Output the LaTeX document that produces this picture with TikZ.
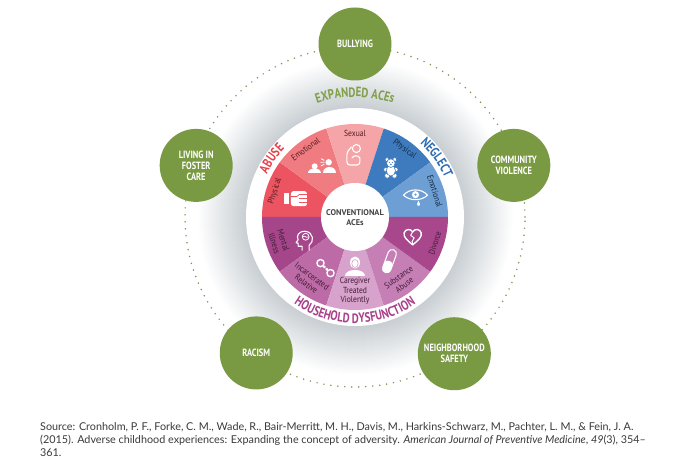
\documentclass[tikz,border=0pt]{standalone}
\usepackage{fontspec}
\setmainfont{PT Sans}
\newfontfamily\condfont[FakeStretch=0.8]{PT Sans}
\newfontfamily\segcond[FakeStretch=0.86]{PT Sans}
\newfontfamily\srcfont{Lato}
\usepackage{tikz}
\usetikzlibrary{positioning, calc, decorations.text}

\definecolor{acegreen}{RGB}{121,154,66}
\definecolor{expgreen}{RGB}{128,160,72}
\definecolor{dotgreen}{RGB}{130,148,84}
\definecolor{glowgray}{RGB}{201,207,211}
\colorlet{glowmid}{glowgray!55!white}
\definecolor{physred}{RGB}{236,84,97}
\definecolor{emored}{RGB}{240,124,130}
\definecolor{sexred}{RGB}{245,164,168}
\definecolor{abusered}{RGB}{232,65,78}
\definecolor{negblue}{RGB}{62,123,190}
\definecolor{emoblue}{RGB}{110,159,212}
\definecolor{neglblue}{RGB}{46,109,180}
\definecolor{mentalpur}{RGB}{165,70,138}
\definecolor{jailpur}{RGB}{189,107,166}
\definecolor{carepur}{RGB}{215,162,203}
\definecolor{drugpur}{RGB}{197,127,181}
\definecolor{divpur}{RGB}{169,71,141}
\definecolor{housepur}{RGB}{168,65,138}
\definecolor{srcgray}{RGB}{58,58,58}
\definecolor{hubgray}{RGB}{70,70,70}
\colorlet{redtext}{physred!35!black}
\colorlet{bluetext}{negblue!35!black}
\colorlet{purtext}{mentalpur!40!black}

\pgfdeclareradialshading{acesglow}{\pgfpoint{0bp}{0bp}}{color(0bp)=(glowgray); color(17.4bp)=(glowgray); color(20.8bp)=(glowmid); color(25bp)=(white); color(50bp)=(white)}

\newcommand\arcfont{\condfont\bfseries\fontsize{13.5}{14}\selectfont}
\newcommand\ringfont{\condfont\bfseries\fontsize{10.5}{11}\selectfont}
\newcommand\segfont{\segcond\fontsize{8.8}{9.6}\selectfont}
\newcommand\hubfont{\bfseries\fontsize{8.3}{10}\selectfont}
\newcommand\srcsize{\srcfont\fontsize{10.8}{13.3}\selectfont}

\begin{document}
\begin{tikzpicture}[
    x=1pt, y=1pt,
    ring/.style={circle, fill=acegreen, minimum size=73pt, inner sep=0pt, text=white, font=\ringfont, align=center},
    seglabel/.style={font=\segfont, align=center, inner sep=0pt},
    icon/.style={white, line width=1.1pt, line cap=round, line join=round},
    bear/.style={fill=white, draw=negblue, line width=0.6pt}
]
\path[use as bounding box, fill=white] (-355,-251) rectangle (329,217);
\coordinate (hub) at (0,0);

% 光晕与点线圆
\shade[shading=acesglow] (hub) circle (158);
\fill[white] (hub) circle (109);
\draw[dotgreen, line width=1.7pt, line cap=round, dash pattern=on 0pt off 7pt] (hub) circle (170);

% 扩展 ACEs
\node[ring] (bully) at (90:173) {BULLYING};
\node[ring] (foster) at (162:167) {LIVING IN\\FOSTER\\CARE};
\node[ring] (community) at (18:167) {COMMUNITY\\VIOLENCE};
\node[ring] (racism) at (234:168) {RACISM};
\node[ring] (safety) at (306:169) {NEIGHBORHOOD\\SAFETY};

% 扇区
\foreach \a/\c in {144/physred, 108/emored, 72/sexred, 36/negblue, 0/emoblue, 180/mentalpur, 216/jailpur, 252/carepur, 288/drugpur, 324/divpur}
  \fill[\c] (hub) -- (\a:93) arc[start angle=\a, end angle=\a+36, radius=93] -- cycle;
\fill[white] (hub) circle (34);
\node[font=\hubfont, text=hubgray, align=center] (conv) at (0,-1) {CONVENTIONAL\\ACEs};

% 扇区文字
\foreach \a/\t in {162/Physical, 126/Emotional, 90/Sexual}
  \node[seglabel, text=redtext, rotate=\a-90] (seg\a) at (\a:84) {\t};
\foreach \a/\t in {54/Physical, 18/Emotional}
  \node[seglabel, text=bluetext, rotate=\a-90] (seg\a) at (\a:84) {\t};
\foreach \a/\r/\t in {198/80/{Mental\\Illness}, 234/78/{Incarcerated\\Relative}, 270/74/{Caregiver\\Treated\\Violently}, 306/79/{Substance\\Abuse}, 342/84/Divorce}
  \node[seglabel, text=purtext, rotate=\a+90] (seg\a) at (\a:\r) {\t};

% 图标
\begin{scope}[shift={(162:61)}]
  \fill[white, rounded corners=2.5pt] (-6,-8) rectangle (10,7);
  \draw[physred, line width=0.8pt] (2,3.5) -- (10,3.5) (2,0) -- (10,0) (2,-3.8) -- (10,-3.8);
  \draw[physred, line width=0.8pt, rounded corners=1pt] (-6,1.5) -- (0,1.5) -- (2,3.5);
  \fill[white] (-13,-6) rectangle (-8,5);
\end{scope}
\begin{scope}[shift={(122:61)}]
  \fill[white] (-8,-1) circle (3);
  \fill[white] (-15,-8) .. controls (-15,-2) and (-2,-2) .. (-2,-8) -- cycle;
  \fill[white] (6,3) circle (3.2);
  \fill[white] (0,-8) .. controls (0,0) and (13,0) .. (13,-8) -- cycle;
  \draw[icon, line width=0.8pt] (1.5,5) -- (-1.5,6.5) (1.5,3) -- (-2,3) (1.5,1) -- (-1.5,-0.5);
\end{scope}
\begin{scope}[shift={(91:62)}]
  \draw[icon] (2.5,6.5) circle (4);
  \draw[icon, rounded corners=3pt] (-2.5,8) -- (-7,3) -- (-7,-10) -- (6,-10) -- (6,-3);
  \draw[icon] (-2,-3) .. controls (0,0) and (4,0) .. (6,-3);
\end{scope}
\begin{scope}[shift={(54:61)}]
  \path[bear] (-5,-2) circle (2.2) (5,-2) circle (2.2);
  \path[bear] (-3.6,-8) circle (2.6) (3.6,-8) circle (2.6);
  \path[bear] (0,-3) ellipse (4.6 and 5.4);
  \path[bear] (-3.8,8) circle (2) (3.8,8) circle (2);
  \path[bear] (0,4.5) circle (4.3);
  \fill[negblue] (-1.5,5.2) circle (0.6) (1.5,5.2) circle (0.6) (0,3.2) circle (0.9);
\end{scope}
\begin{scope}[shift={(19:64)}]
  \draw[icon] (-12,1) .. controls (-6,8) and (6,8) .. (12,1) .. controls (6,-5) and (-6,-5) .. (-12,1) -- cycle;
  \fill[white] (0,1.5) circle (3.6);
  \fill[emoblue] (0,1.5) circle (1.3);
  \fill[white] (3,-4.5) -- (1.6,-7.5) arc[start angle=150, end angle=390, radius=1.6] -- cycle;
\end{scope}
\begin{scope}[shift={(205:55)}]
  \draw[icon] (4,-10) -- (4,-5) .. controls (9,-2) and (9,8) .. (0,9) .. controls (-7,9) and (-9,4) .. (-7,0.5) -- (-9,-2.5) -- (-7,-3) -- (-7,-6) -- (-3,-6) -- (-3,-10);
  \draw[icon, line width=0.8pt] (0.5,3.5) circle (3.4);
  \draw[icon, line width=0.7pt] (-2,3.5) .. controls (-0.5,5.5) and (1,1.5) .. (3,3.5);
\end{scope}
\begin{scope}[shift={(240:59)}]
  \draw[icon, line width=1.4pt] (-5,5) circle (3.6) (5,-5) circle (3.6);
  \draw[icon, line width=0.9pt] (-1.2,1.2) circle (1) (1.2,-1.2) circle (1);
\end{scope}
\begin{scope}[shift={(270:48)}]
  \fill[white] (-10,-11) .. controls (-10,-3) and (10,-3) .. (10,-11) -- cycle;
  \fill[white] (0,2.5) ellipse (5 and 6);
  \filldraw[white, draw=carepur, line width=0.6pt] (0,1.5) ellipse (3.2 and 4);
\end{scope}
\begin{scope}[shift={(308:56)}, rotate=70]
  \draw[icon, rounded corners=4pt] (-12,-4.2) rectangle (12,4.2);
  \fill[white, rounded corners=3pt] (-12,-4.2) rectangle (0,4.2);
\end{scope}
\begin{scope}[shift={(341:61)}]
  \draw[icon, line width=1.4pt] (0,-8) .. controls (-6,-3) and (-9.5,0) .. (-8.5,4) .. controls (-7.5,8) and (-2,8.5) .. (0,5) .. controls (2,8.5) and (7.5,8) .. (8.5,4) .. controls (9.5,0) and (6,-3) .. (0,-8) -- cycle;
  \draw[icon, line width=1pt] (0,5) -- (-2,1.5) -- (1.5,-1) -- (-0.5,-4.5) -- (0,-8);
\end{scope}

% 弧形标题
\path[decorate, decoration={text along path, text={|\arcfont|EXPANDED ACEs}, text align=center, text color=expgreen}] (117:120) arc[start angle=117, end angle=63, radius=120];
\path[decorate, decoration={text along path, text={|\arcfont|ABUSE}, text align=center, text color=abusered}] (160:98) arc[start angle=160, end angle=130, radius=98];
\path[decorate, decoration={text along path, text={|\arcfont|NEGLECT}, text align=center, text color=neglblue}] (54:98) arc[start angle=54, end angle=18, radius=98];
\path[decorate, decoration={text along path, text={|\arcfont|HOUSEHOLD DYSFUNCTION}, text align=center, text color=housepur}] (220:106) arc[start angle=220, end angle=320, radius=106];

% 出处
\node[anchor=north west, inner sep=0pt, align=left, text=srcgray, font=\srcsize] (source) at (-315,-205) {Source: Cronholm, P. F., Forke, C. M., Wade, R., Bair-Merritt, M. H., Davis, M., Harkins-Schwarz, M., Pachter, L. M., \& Fein, J. A.\\(2015). Adverse childhood experiences: Expanding the concept of adversity. \textit{American Journal of Preventive Medicine}, \textit{49}(3), 354–\\361.};
\end{tikzpicture}
\end{document}
